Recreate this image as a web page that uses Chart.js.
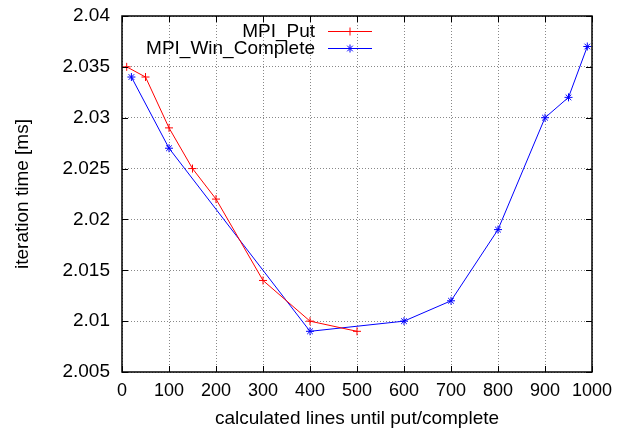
<!DOCTYPE html>
<html>
<head>
<meta charset="utf-8">
<script src="https://cdn.jsdelivr.net/npm/chart.js@4/dist/chart.umd.min.js"></script>
<style>
  html, body { margin: 0; padding: 0; background: #fff; }
  #wrap { width: 617px; height: 430px; }
</style>
</head>
<body>
<div id="wrap"><canvas id="chart" width="617" height="430"></canvas></div>
<script>
const putX = [10, 50, 100, 150, 200, 300, 400, 500];
const putY = [2.035, 2.034, 2.029, 2.025, 2.022, 2.014, 2.010, 2.009];
const completeX = [20, 100, 400, 600, 700, 800, 900, 950, 990];
const completeY = [2.034, 2.027, 2.009, 2.010, 2.012, 2.019, 2.030, 2.032, 2.037];
const seriesNames = ["MPI_Put", "MPI_Win_Complete"];
const xTitle = "calculated lines until put/complete";
const yTitle = "iteration time [ms]";

const FONT = "'Liberation Sans', Arial, sans-serif";

function toPoints(xs, ys) {
  return xs.map((x, i) => ({ x: x, y: ys[i] }));
}

// border box + inward ticks like gnuplot, plus legend inside the plot
const frame = {
  id: "frame",
  afterDatasetsDraw(chart) {
    const { ctx, chartArea: a, scales } = chart;
    ctx.save();
    ctx.strokeStyle = "#000";
    ctx.lineWidth = 1;
    ctx.beginPath();
    scales.x.ticks.forEach((t) => {
      const px = Math.round(scales.x.getPixelForValue(t.value)) + 0.5;
      ctx.moveTo(px, a.bottom); ctx.lineTo(px, a.bottom - 6);
      ctx.moveTo(px, a.top); ctx.lineTo(px, a.top + 6);
    });
    scales.y.ticks.forEach((t) => {
      const py = Math.round(scales.y.getPixelForValue(t.value)) + 0.5;
      ctx.moveTo(a.left, py); ctx.lineTo(a.left + 6, py);
      ctx.moveTo(a.right, py); ctx.lineTo(a.right - 6, py);
    });
    ctx.stroke();
    ctx.lineWidth = 1.5;
    ctx.strokeRect(a.left, a.top, a.right - a.left, a.bottom - a.top);

    // legend
    ctx.font = "19px " + FONT;
    ctx.textAlign = "right";
    ctx.textBaseline = "middle";
    ctx.lineWidth = 1;
    chart.data.datasets.forEach((ds, i) => {
      const y = a.top + 15 + i * 17;
      ctx.fillStyle = "#000";
      ctx.fillText(ds.label, 315, y + 1);
      ctx.strokeStyle = ds.borderColor;
      ctx.beginPath();
      ctx.moveTo(328, y + 0.5); ctx.lineTo(372, y + 0.5);
      ctx.stroke();
      Chart.helpers.drawPoint(ctx, { pointStyle: ds.pointStyle, radius: 4, borderWidth: 1 }, 350, y + 0.5);
    });
    ctx.restore();
  },
};

new Chart(document.getElementById("chart"), {
  type: "scatter",
  data: {
    datasets: [
      {
        label: seriesNames[0],
        data: toPoints(putX, putY),
        showLine: true,
        borderColor: "#ff0000",
        backgroundColor: "#ff0000",
        borderWidth: 1,
        pointStyle: "cross",
        pointRadius: 4,
        pointBorderWidth: 1,
      },
      {
        label: seriesNames[1],
        data: toPoints(completeX, completeY),
        showLine: true,
        borderColor: "#0000ff",
        backgroundColor: "#0000ff",
        borderWidth: 1,
        pointStyle: "star",
        pointRadius: 4,
        pointBorderWidth: 1,
      },
    ],
  },
  options: {
    responsive: false,
    animation: false,
    layout: { padding: { left: 11, top: 16, right: 25, bottom: 0 } },
    plugins: { legend: { display: false }, tooltip: { enabled: false } },
    scales: {
      x: {
        type: "linear",
        min: 0,
        max: 1000,
        ticks: {
          stepSize: 100,
          color: "#000",
          font: { family: FONT, size: 18 },
          padding: 8,
          maxRotation: 0,
          callback: (v) => String(v),
        },
        grid: { color: "#888", drawTicks: false, tickLength: 0 },
        border: { display: false, dash: [1, 2] },
        title: { display: true, text: xTitle, color: "#000", font: { family: FONT, size: 19 }, padding: { top: 0, bottom: 0 } },
        afterFit(scale) {
          scale.height = 58;
          scale.paddingLeft = 0;
          scale.paddingRight = 0;
        },
      },
      y: {
        min: 2.005,
        max: 2.04,
        ticks: {
          stepSize: 0.005,
          color: "#000",
          font: { family: FONT, size: 19 },
          padding: 12,
          callback: (v) => String(parseFloat(Number(v).toFixed(3))),
        },
        grid: { color: "#888", drawTicks: false, tickLength: 0 },
        border: { display: false, dash: [1, 2] },
        title: { display: true, text: yTitle, color: "#000", font: { family: FONT, size: 19 }, padding: { top: 0, bottom: 0 } },
        afterFit(scale) {
          scale.width = 111;
          scale.paddingTop = 0;
          scale.paddingBottom = 0;
        },
      },
    },
  },
  plugins: [frame],
});
</script>
</body>
</html>
